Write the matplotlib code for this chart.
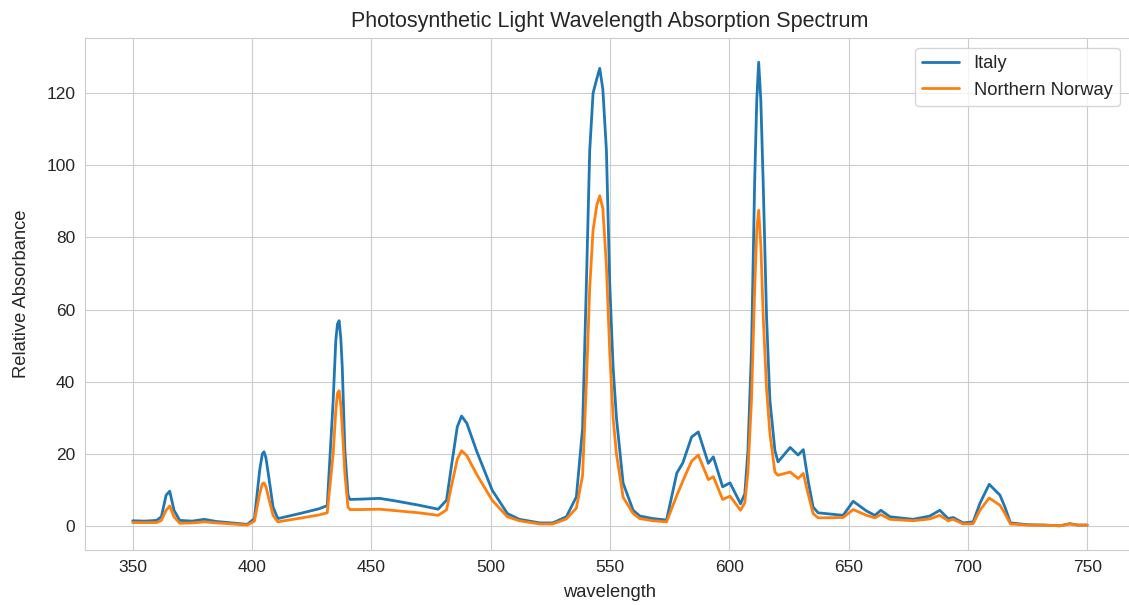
import matplotlib
matplotlib.use("Agg")
import matplotlib.pyplot as plt
import seaborn as sns

# wavelength keypoints (nm)
wavelength = [350, 355, 360, 362, 364, 365.5, 367.3, 369.7, 375, 380, 385, 390, 398,
              401, 403.2, 404.3, 405, 405.8, 407, 408.8, 410.8, 420, 428, 431.5,
              434, 435.1, 435.8, 436.5, 437.2, 437.8, 438.9, 440.2, 441, 446, 453.5, 460, 470, 478,
              481.5, 483.5, 486, 487.8, 490, 494, 500.6, 507, 512, 520.6, 526,
              531.7, 535.9, 538.5, 540.1, 541.5, 542.9, 544.5, 545.7, 547, 548.5,
              549.9, 551.3, 552.7, 555.5, 559.7, 562.5, 568, 573.7,
              578, 580.5, 584.2, 587, 591.2, 593.3, 597.2, 600.3, 604.7,
              606.5, 607.8, 609.3, 610.6, 611.5, 612.3, 613.2, 614.2, 615.6, 617, 619.1, 620.4,
              625.5, 628.8, 631, 633, 635.1, 637.2, 647.7, 651.9, 657.5, 661, 663.5,
              667.3, 677, 684, 688.2, 691.7, 693.8, 698, 702.2, 705, 708.9, 713.4,
              715.5, 717.8, 725, 732, 738.5, 742.7, 746, 750]

italy = [1.5, 1.4, 1.6, 2.6, 8.6, 9.7, 4.4, 1.6, 1.4, 1.9, 1.3, 1.0, 0.5,
         2.1, 15.5, 20.0, 20.6, 19.0, 13.7, 5.3, 2.1, 3.5, 4.8, 5.7,
         34.9, 51.5, 56.0, 56.9, 52.0, 44.1, 21.0, 8.6, 7.4, 7.5, 7.7, 7.0, 5.8, 4.7,
         7.2, 16.4, 27.5, 30.5, 28.5, 21.0, 10.0, 3.5, 1.9, 0.9, 0.9,
         2.6, 8.1, 27.0, 67.0, 104.0, 119.9, 124.0, 126.8, 121.0, 104.0,
         67.0, 44.0, 30.0, 11.9, 4.4, 2.8, 2.1, 1.7,
         14.7, 17.5, 24.7, 26.1, 17.4, 19.2, 10.9, 12.0, 6.2,
         9.0, 21.0, 48.8, 94.9, 118.0, 128.5, 118.0, 94.9, 58.0, 34.9, 21.0, 17.8,
         21.8, 19.7, 21.2, 12.7, 5.3, 3.7, 3.0, 6.9, 4.2, 3.0, 4.4,
         2.6, 1.9, 2.8, 4.4, 2.1, 2.4, 0.9, 1.2, 6.3, 11.6, 8.6,
         5.3, 0.9, 0.4, 0.3, 0.1, 0.7, 0.3, 0.3]

northern_norway = [1.0, 1.0, 1.0, 1.6, 4.4, 5.6, 2.6, 0.8, 0.9, 1.2, 0.9, 0.7, 0.3,
                   1.4, 9.0, 11.7, 12.0, 11.0, 7.7, 3.0, 1.2, 2.2, 3.1, 3.7,
                   20.0, 32.1, 36.8, 37.5, 33.5, 27.5, 14.6, 5.3, 4.6, 4.6, 4.7, 4.3, 3.7, 3.0,
                   4.5, 10.9, 18.5, 20.9, 19.5, 14.5, 7.2, 2.6, 1.5, 0.6, 0.6,
                   2.0, 5.0, 14.0, 39.6, 66.0, 82.0, 89.0, 91.5, 88.0, 72.0,
                   48.0, 30.0, 20.0, 8.0, 3.5, 2.1, 1.5, 1.2,
                   8.5, 12.5, 18.0, 19.7, 12.9, 13.7, 7.4, 8.3, 4.4,
                   6.5, 15.0, 35.0, 65.0, 82.0, 87.5, 78.0, 58.0, 38.0, 25.7, 15.0, 14.1,
                   15.0, 13.2, 14.6, 9.0, 3.5, 2.3, 2.4, 4.6, 3.0, 2.3, 3.2,
                   1.9, 1.5, 2.0, 3.0, 1.5, 1.9, 0.6, 0.7, 4.4, 7.8, 5.8,
                   3.5, 0.6, 0.3, 0.3, 0.1, 0.6, 0.3, 0.3]

sns.set_style("whitegrid")
plt.rcParams['font.family'] = ['Liberation Sans', 'DejaVu Sans']

fig = plt.figure(figsize=(11.29, 6.05), dpi=100)
ax = fig.add_axes([85/1129, 55/605, 1050/1129, 512/605])

ax.plot(wavelength, italy, label="Italy", linewidth=2)
ax.plot(wavelength, northern_norway, label="Northern Norway", linewidth=2)

ax.set_xlim(330, 770)
ax.set_ylim(-6.6, 135.2)
ax.set_xticks(range(350, 751, 50))
ax.set_yticks(range(0, 121, 20))
ax.tick_params(labelsize=12.5, colors='#262626')

ax.set_title("Photosynthetic Light Wavelength Absorption Spectrum", fontsize=15.5, color='#262626', pad=8)
ax.set_xlabel("wavelength", fontsize=13.2, color='#262626', labelpad=7)
ax.set_ylabel("Relative Absorbance", fontsize=13.2, color='#262626', labelpad=12)

ax.legend(loc='upper right', bbox_to_anchor=(1129/1129, 1 - 39/605),
          bbox_transform=fig.transFigure, fontsize=13.2, frameon=True)

fig.savefig("out.png", dpi=100)
